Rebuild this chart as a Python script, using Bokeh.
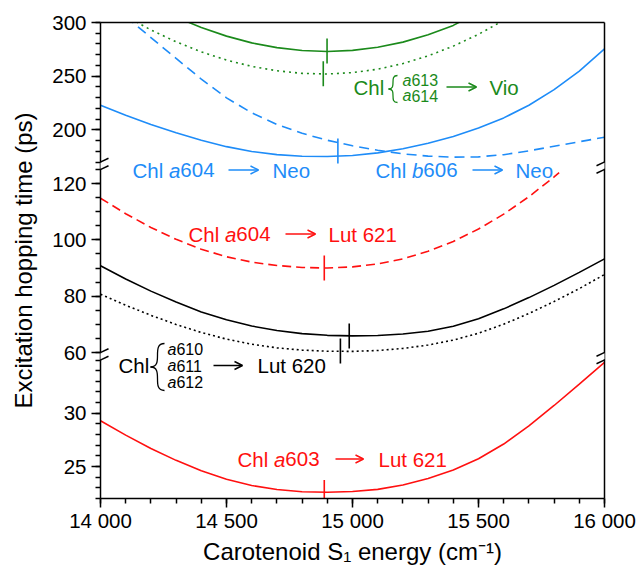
import numpy as np
from bokeh.plotting import figure
from bokeh.models import (Range1d, LinearAxis, FixedTicker, Label, Arrow, OpenHead,
                          CustomJSTickFormatter)
from bokeh.embed import file_html
from bokeh.resources import INLINE

# ---------------- data ----------------
energy = list(range(14000, 16001, 100))

x_ticks = [14000, 14500, 15000, 15500, 16000]
x_tick_labels = ["14 000", "14 500", "15 000", "15 500", "16 000"]
x_minor_ticks = list(range(14000, 16001, 100))

top_limits = (170, 300)
top_ticks = [200, 250, 300]
top_minor_ticks = list(range(170, 301, 10))
mid_limits = (60, 125)
mid_ticks = [60, 80, 100, 120]
mid_minor_ticks = list(range(60, 126, 5))
bot_limits = (22, 35)
bot_ticks = [25, 30]
bot_minor_ticks = list(range(22, 36))

# Chl a613/a614 -> Vio (solid and dotted)
vio_solid_x = list(range(14300, 15501, 100))
vio_solid = [305.0, 295.3, 287.3, 281.0, 276.6, 273.9, 273.0, 274.0, 276.9, 281.7, 288.6, 297.3, 309.7]
vio_dotted_x = list(range(14100, 15601, 100))
vio_dotted = [306.0, 293.1, 282.0, 272.6, 265.0, 259.1, 255.0, 252.6, 252.0, 253.3, 256.5, 261.7, 268.9, 278.0, 289.0, 302.0]
# Chl a604 -> Neo (solid), Chl b606 -> Neo (dashed)
neo_a604 = [222.8, 213.5, 205.0, 197.2, 190.2, 184.3, 179.8, 176.9, 175.4, 175.1, 176.1, 178.5, 182.3, 187.4, 193.8, 201.6, 211.1, 222.9, 237.4, 254.7, 275.5]
neo_b606_x = list(range(14100, 16001, 100))
neo_b606 = [305.5, 286.0, 266.5, 247.3, 229.8, 215.8, 205.0, 196.7, 190.3, 185.1, 180.9, 177.6, 175.5, 174.5, 174.8, 176.8, 180.4, 184.7, 188.9, 193.1]
# Chl a604 -> Lut 621 (dashed)
lut621_a604_x = list(range(14000, 15801, 100)) + [15820]
lut621_a604 = [114.8, 109.3, 104.4, 100.2, 96.7, 94.0, 92.1, 90.9, 90.2, 90.0, 90.4, 91.45, 93.25, 95.95, 99.45, 103.85, 109.15, 115.35, 122.35, 123.85]
# Chl a610/a611/a612 -> Lut 620 (solid and dotted)
lut620_solid = [90.8, 86.1, 81.8, 77.9, 74.4, 71.6, 69.4, 67.8, 66.7, 66.1, 65.9, 66.05, 66.55, 67.55, 69.3, 72.0, 75.5, 79.5, 83.85, 88.45, 93.25]
lut620_dotted = [80.7, 76.8, 73.2, 69.95, 67.1, 64.75, 62.95, 61.65, 60.85, 60.45, 60.4, 60.7, 61.45, 62.65, 64.4, 66.85, 70.05, 73.85, 78.1, 82.7, 87.7]
# Chl a603 -> Lut 621
lut621_a603 = [29.3, 27.95, 26.7, 25.58, 24.6, 23.8, 23.22, 22.84, 22.64, 22.59, 22.66, 22.86, 23.26, 23.88, 24.68, 25.73, 27.11, 28.81, 30.73, 32.73, 34.78]

# vertical marks on the curves
mark_top_x = [14899, 14884, 14942]
mark_top_y = [273.5, 252.2, 180.2]
mark_mid_x = [14888, 14987, 14952]
mark_mid_y = [90.0, 65.9, 60.5]
mark_bot_x = [14888]
mark_bot_y = [22.56]

# ---------------- layout / style ----------------
W, H = 641, 568
FL, FR, FT, FB = 100, 604, 22, 498
PANEL_PX = {"top": (22, 161.5), "mid": (169, 352), "bot": (359.5, 498)}
LIMITS = {"top": top_limits, "mid": mid_limits, "bot": bot_limits}
FONT = "Liberation Sans"
GREEN = "#1b8a1b"
BLUE = "#1e8cf8"
RED = "#ff1010"
BLACK = "#000000"
LW = 1.6


def full_range(lims, px):
    lo, hi = lims
    pt, pb = px
    s = (pb - pt) / (hi - lo)
    return Range1d(start=lo - (FB - pb) / s, end=hi + (pt - FT) / s)


p = figure(width=W, height=H, x_range=Range1d(14000, 16000),
           y_range=full_range(bot_limits, PANEL_PX["bot"]),
           output_backend="svg", toolbar_location=None,
           min_border_left=FL, min_border_right=W - FR, min_border_top=FT,
           min_border_bottom=H - FB, outline_line_color=None,
           background_fill_color="white", border_fill_color="white")
p.extra_y_ranges = {"top": full_range(top_limits, PANEL_PX["top"]),
                    "mid": full_range(mid_limits, PANEL_PX["mid"])}
p.grid.visible = False

_s_bot = (PANEL_PX["bot"][1] - PANEL_PX["bot"][0]) / (bot_limits[1] - bot_limits[0])


def px2x(px):
    return 14000 + (px - FL) * 2000.0 / (FR - FL)


def py2y(py):
    # screen y -> value on the default (bottom panel) scale
    return bot_limits[1] - (py - PANEL_PX["bot"][0]) / _s_bot


def panel_to_default(name, v):
    lo, hi = LIMITS[name]
    pt, pb = PANEL_PX[name]
    py = pt + (hi - v) * (pb - pt) / (hi - lo)
    return py2y(py)


# ---------------- curves ----------------
p.line(vio_solid_x, vio_solid, y_range_name="top", line_color=GREEN, line_width=LW)
p.line(vio_dotted_x, vio_dotted, y_range_name="top", line_color=GREEN, line_width=LW, line_dash="2 4")
p.line(energy, neo_a604, y_range_name="top", line_color=BLUE, line_width=LW)
p.line(neo_b606_x, neo_b606, y_range_name="top", line_color=BLUE, line_width=LW, line_dash="10 6")
p.line(lut621_a604_x, lut621_a604, y_range_name="mid", line_color=RED, line_width=LW, line_dash="9 5")
p.line(energy, lut620_solid, y_range_name="mid", line_color=BLACK, line_width=LW)
p.line(energy, lut620_dotted, y_range_name="mid", line_color=BLACK, line_width=LW, line_dash="2 3")
p.line(energy, lut621_a603, line_color=RED, line_width=LW)

p.scatter(mark_top_x, mark_top_y, marker="dash", size=25, angle=np.pi / 2,
          line_color=[GREEN, GREEN, BLUE], line_width=LW, y_range_name="top")
p.scatter(mark_mid_x, mark_mid_y, marker="dash", size=25, angle=np.pi / 2,
          line_color=[RED, BLACK, BLACK], line_width=LW, y_range_name="mid")
p.scatter(mark_bot_x, mark_bot_y, marker="dash", size=25, angle=np.pi / 2,
          line_color=RED, line_width=LW)


# ---------------- axes ----------------
def style_axis(ax):
    ax.axis_line_width = 1.5
    ax.axis_line_color = "black"
    ax.major_tick_line_width = 1.5
    ax.minor_tick_line_width = 1.5
    ax.major_tick_in = 0
    ax.major_tick_out = 9
    ax.minor_tick_in = 0
    ax.minor_tick_out = 5
    ax.major_label_text_font = FONT
    ax.major_label_text_font_size = "20.5px"
    ax.major_label_text_color = "black"
    ax.axis_label_text_font = FONT
    ax.axis_label_text_font_size = "24px"
    ax.axis_label_text_font_style = "normal"
    ax.axis_label_text_color = "black"


xa = p.xaxis[0]
xa.ticker = FixedTicker(ticks=x_ticks, minor_ticks=x_minor_ticks)
xa.major_label_overrides = dict(zip(x_ticks, x_tick_labels))
style_axis(xa)
xa.major_label_standoff = 1
xa.axis_label = "Carotenoid S\u2081 energy (cm\u207b\u00b9)"
xa.axis_label_standoff = 3

# one broken y axis: each panel's ticks placed through that panel's own scale
maj_pos, maj_lab, min_pos = [], [], []
for name, ticks, minor in (("top", top_ticks, top_minor_ticks),
                           ("mid", mid_ticks, mid_minor_ticks),
                           ("bot", bot_ticks, bot_minor_ticks)):
    for v in ticks:
        maj_pos.append(panel_to_default(name, v))
        maj_lab.append(str(v))
    for v in minor:
        min_pos.append(panel_to_default(name, v))

ya = p.yaxis[0]
ya.ticker = FixedTicker(ticks=maj_pos, minor_ticks=min_pos)
ya.formatter = CustomJSTickFormatter(args=dict(pos=maj_pos, labels=maj_lab), code="""
    for (let i = 0; i < pos.length; i++) {
        if (Math.abs(pos[i] - tick) < 1e-6) { return labels[i]; }
    }
    return "";
""")
style_axis(ya)
ya.major_label_standoff = 5
ya.axis_label = "Excitation hopping time (ps)"
ya.axis_label_standoff = 12

for side in ("right", "above"):
    ax = LinearAxis(ticker=FixedTicker(ticks=[], minor_ticks=[]))
    style_axis(ax)
    ax.major_tick_out = 0
    ax.minor_tick_out = 0
    ax.major_label_text_font_size = "0px"
    p.add_layout(ax, side)

# axis breaks: blank the axis line in the gaps, then draw the slashes
GAPS = [(161.5, 169.0), (352.0, 359.5)]
for axx in (FL, FR):
    for g0, g1 in GAPS:
        p.add_layout(Arrow(x_start=px2x(axx), y_start=py2y(g0 + 0.8),
                           x_end=px2x(axx), y_end=py2y(g1 - 0.8),
                           start=None, end=None, line_color="white", line_width=5))
        for ye in (g0, g1):
            p.add_layout(Arrow(x_start=px2x(axx - 8), y_start=py2y(ye + 3.8),
                               x_end=px2x(axx + 8), y_end=py2y(ye - 3.8),
                               start=None, end=None, line_color="black", line_width=1.5))

# ---------------- annotations ----------------
WID = {' ': 278, 'a': 556, 'b': 556, 'C': 722, 'h': 556, 'l': 222, 'N': 722, 'e': 556,
       'o': 556, 'L': 556, 'u': 556, 't': 278, 'V': 667, 'i': 222}


def tw(s, size):
    return sum(WID.get(c, 556) for c in s) * size / 1000.0


def run(px, py, pieces, color):
    x = px
    for txt, italic, size in pieces:
        p.add_layout(Label(x=px2x(x), y=py2y(py), text=txt, text_font=FONT,
                           text_font_size=f"{size}px",
                           text_font_style="italic" if italic else "normal",
                           text_color=color, text_align="left", text_baseline="middle"))
        x += tw(txt, size)


def arrow(x0, x1, py, color):
    p.add_layout(Arrow(x_start=px2x(x0), y_start=py2y(py), x_end=px2x(x1), y_end=py2y(py),
                       start=None, end=OpenHead(size=8, line_color=color, line_width=1.5),
                       line_color=color, line_width=1.5))


def brace(xl, xr, yt, yb, color):
    ym = (yt + yb) / 2.0
    for ye in (yt, yb):
        p.bezier(x0=[px2x(xr)], y0=[py2y(ye)], x1=[px2x(xl)], y1=[py2y(ym)],
                 cx0=[px2x(xl)], cy0=[py2y(ye)], cx1=[px2x(xr)], cy1=[py2y(ym)],
                 line_color=color, line_width=1.3)


MS = 20.5
SS = 16
# Chl {a613, a614} -> Vio
run(353, 86.5, [("Chl", False, MS)], GREEN)
brace(388, 397, 75, 102, GREEN)
run(402, 79.5, [("a", True, SS), ("613", False, SS)], GREEN)
run(402, 95, [("a", True, SS), ("614", False, SS)], GREEN)
arrow(446, 476, 86.5, GREEN)
run(489, 86.5, [("Vio", False, MS)], GREEN)
# Chl a604 -> Neo
run(132, 169.5, [("Chl ", False, MS), ("a", True, MS), ("604", False, MS)], BLUE)
arrow(228, 258, 169.5, BLUE)
run(272, 169.5, [("Neo", False, MS)], BLUE)
# Chl b606 -> Neo
run(375, 169.5, [("Chl ", False, MS), ("b", True, MS), ("606", False, MS)], BLUE)
arrow(472, 502, 169.5, BLUE)
run(515, 169.5, [("Neo", False, MS)], BLUE)
# Chl a604 -> Lut 621
run(188, 233.5, [("Chl ", False, MS), ("a", True, MS), ("604", False, MS)], RED)
arrow(285, 315, 233.5, RED)
run(328, 233.5, [("Lut 621", False, MS)], RED)
# Chl {a610, a611, a612} -> Lut 620
run(118, 364.5, [("Chl", False, MS)], BLACK)
brace(150, 164, 343, 390, BLACK)
run(167, 348.5, [("a", True, SS), ("610", False, SS)], BLACK)
run(167, 365, [("a", True, SS), ("611", False, SS)], BLACK)
run(167, 381.5, [("a", True, SS), ("612", False, SS)], BLACK)
arrow(213, 242, 365, BLACK)
run(257, 364.5, [("Lut 620", False, MS)], BLACK)
# Chl a603 -> Lut 621
run(237, 458.5, [("Chl ", False, MS), ("a", True, MS), ("603", False, MS)], RED)
arrow(335, 363, 458.5, RED)
run(378, 458.5, [("Lut 621", False, MS)], RED)

open("out.html", "w").write(file_html(p, INLINE))
